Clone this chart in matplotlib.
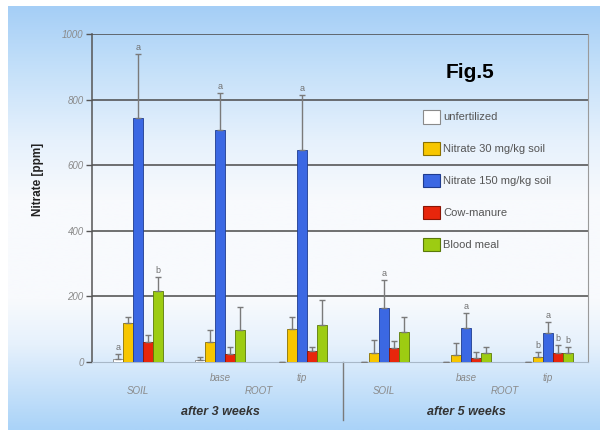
import numpy as np
import matplotlib.pyplot as plt
from matplotlib.patches import Patch
from matplotlib.lines import Line2D

plt.rcParams['font.family'] = ['Liberation Sans', 'DejaVu Sans']

# data (ppm), one value per group:
# after 3 weeks: SOIL, ROOT base, ROOT tip ; after 5 weeks: SOIL, ROOT base, ROOT tip
series = ['unfertilized', 'Nitrate 30 mg/kg soil', 'Nitrate 150 mg/kg soil',
          'Cow-manure', 'Blood meal']
unfert = [10, 5, 0, 0, 0, 0]
nitrate30 = [120, 60, 100, 28, 21, 15]
nitrate150 = [745, 708, 646, 165, 104, 89]
cow = [60, 25, 35, 43, 12, 27]
blood = [217, 98, 112, 91, 27, 27]

unfert_err = [15, 10, 0, 0, 0, 0]
nitrate30_err = [18, 37, 36, 40, 37, 15]
nitrate150_err = [195, 112, 168, 86, 45, 33]
cow_err = [22, 21, 12, 21, 18, 25]
blood_err = [41, 70, 77, 46, 19, 19]

unfert_sig = ['a', '', '', '', '', '']
nitrate30_sig = ['', '', '', '', '', 'b']
nitrate150_sig = ['a', 'a', 'a', 'a', 'a', 'a']
cow_sig = ['', '', '', '', '', 'b']
blood_sig = ['b', '', '', '', '', 'b']

sub_labels = ['SOIL', 'base', 'tip', 'SOIL', 'base', 'tip']
period_labels = ['after 3 weeks', 'after 5 weeks']

values = [unfert, nitrate30, nitrate150, cow, blood]
errors = [unfert_err, nitrate30_err, nitrate150_err, cow_err, blood_err]
sigs = [unfert_sig, nitrate30_sig, nitrate150_sig, cow_sig, blood_sig]
colors = ['#ffffff', '#f7c600', '#3b68e3', '#e8260c', '#9dcc12']
edges = ['#8a8a8a', '#8a7000', '#1f3c8f', '#8a1505', '#5a7a08']

fig = plt.figure(figsize=(6, 4.3), dpi=100)

# background gradient (light blue top and bottom, white middle)
bg = fig.add_axes([8/600, 0, 1 - 8/600, 1 - 6/430], zorder=-10)
ypix = np.linspace(6, 430, 300)
stops = [6, 60, 140, 200, 300, 345, 390, 430]
rs = [165, 192, 230, 248, 248, 230, 198, 170]
gs = [206, 222, 241, 250, 250, 241, 225, 211]
bs = [246, 249, 252, 253, 253, 252, 250, 248]
grad = np.stack([np.interp(ypix, stops, c) for c in (rs, gs, bs)], axis=1) / 255
bg.imshow(grad[:, None, :], aspect='auto', extent=[0, 1, 0, 1])
bg.axis('off')

ax = fig.add_axes([92/600, 1 - 362/430, (588 - 92)/600, (362 - 34)/430])
ax.set_facecolor('none')

n = len(sub_labels)
spacing = 8.2
centers = np.arange(n) * spacing
for k, (vals, errs, sg) in enumerate(zip(values, errors, sigs)):
    x = centers + (k - 2)
    ax.bar(x, vals, width=1.0, color=colors[k], edgecolor=edges[k],
           linewidth=0.6, zorder=3)
    ax.errorbar(x, vals, yerr=[np.zeros(n), errs], fmt='none', ecolor='#7a7a7a',
                elinewidth=1, capsize=2, capthick=1, zorder=4)
    for xi, v, e, s in zip(x, vals, errs, sg):
        if s:
            ax.text(xi, v + e + 6, s, ha='center', va='bottom', fontsize=6.5,
                    color='#707070', zorder=5)

ax.set_xlim(-4.6, 45.0)
ax.set_ylim(0, 1000)
ax.set_yticks([0, 200, 400, 600, 800, 1000])
ax.set_yticklabels(['0', '200', '400', '600', '800', '1000'], fontsize=7,
                   style='italic', color='#8a8a8a')
ax.tick_params(axis='y', length=4, width=1, color='#555555', pad=2)
ax.set_xticks([])
for yv in [200, 400, 600, 800, 1000]:
    ax.axhline(yv, color='#4a4a4a', lw=1.1, zorder=1)
ax.spines['top'].set_visible(False)
ax.spines['left'].set_color('#555555')
ax.spines['left'].set_linewidth(1.1)
ax.spines['right'].set_color('#9a9a9a')
ax.spines['bottom'].set_color('#a8b8c8')

fig.text(38/600, 1 - 179/430, 'Nitrate [ppm]', rotation=90, ha='center',
         va='center', fontsize=8.5, fontweight='bold', color='#222222')

# group labels under the axis
trans = ax.get_xaxis_transform()
for i, lab in enumerate(sub_labels):
    yy = -0.05 if lab in ('base', 'tip') else -0.088
    ax.text(centers[i], yy, lab, transform=trans, ha='center', va='center',
            fontsize=7, style='italic', color='#8a8a8a')
for i in (0, 3):
    ax.text((centers[i + 1] + centers[i + 2]) / 2 - 0.2, -0.088, 'ROOT',
            transform=trans, ha='center', va='center', fontsize=7,
            style='italic', color='#8a8a8a')
    ax.text(centers[i + 1], -0.152, period_labels[i // 3], transform=trans,
            ha='center', va='center', fontsize=9, style='italic',
            fontweight='bold', color='#333333')
sep = (centers[2] + centers[3]) / 2
ax.add_line(Line2D([sep, sep], [0, -0.177], transform=trans, color='#7a7a7a',
                   lw=1, clip_on=False))

handles = [Patch(facecolor=c, edgecolor=e, linewidth=0.8) for c, e in zip(colors, edges)]
fig.legend(handles, series, loc='upper left', bbox_to_anchor=(423/600, 1 - 110/430),
           frameon=False, fontsize=8, handlelength=1.5, handleheight=1.5,
           handletextpad=0.3, labelspacing=1.65, borderpad=0, borderaxespad=0,
           labelcolor='#555555')

fig.text(470/600, 1 - 73/430, 'Fig.5', ha='center', va='center', fontsize=15,
         fontweight='bold', color='black')

fig.savefig('out.png', dpi=100)
